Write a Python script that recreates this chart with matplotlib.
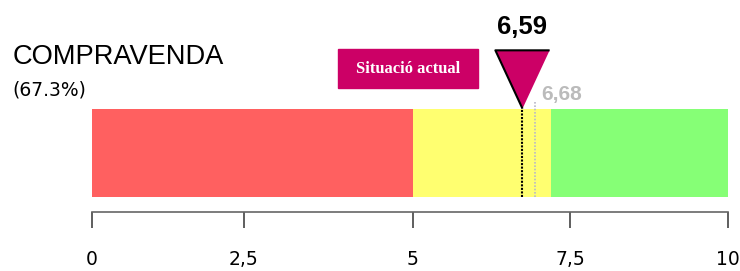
import numpy as np
import matplotlib
matplotlib.use('Agg')
import matplotlib.pyplot as plt
from matplotlib import transforms
from matplotlib.patches import Rectangle

# -------- data --------
band_edges = [0, 5, 7.2, 10]
band_colors = ['#FF6060', '#FFFF70', '#86FF76']

tick_vals = [0, 2.5, 5, 7.5, 10]
tick_labels = ['0', '2,5', '5', '7,5', '10']

actual_pos = 6.73      # where the marker sits on the axis
actual_label = '6,59'
prev_pos = 6.94
prev_label = '6,68'

title = 'COMPRAVENDA'
subtitle = '(67.3%)'
legend_text = 'Situació actual'

# the axis of the original is not quite linear: tick positions in pixels
AXIS_PX = [92, 243.5, 413, 570, 728]

MAGENTA = '#CC0066'

# -------- figure --------
W, H = 740, 271
fig = plt.figure(figsize=(W / 100, H / 100), dpi=100)
ax = fig.add_axes([92 / W, 74 / H, (728 - 92) / W, 88 / H])


def fwd(x):
    return np.interp(x, tick_vals, AXIS_PX)


def inv(x):
    return np.interp(x, AXIS_PX, tick_vals)


ax.set_xscale('function', functions=(fwd, inv))
ax.set_xlim(0, 10)
ax.set_ylim(0, 1)

# bandes de color
for i, c in enumerate(band_colors):
    ax.barh(0.5, band_edges[i + 1] - band_edges[i], left=band_edges[i],
            height=1, color=c, linewidth=0)

# linies puntejades
ax.plot([prev_pos, prev_pos], [0, 1.08], color='#B8B8C8', lw=1.2,
        dashes=(1, 1), clip_on=False, zorder=3)
ax.plot([actual_pos, actual_pos], [0, 1.0], color='black', lw=1.5,
        dashes=(1, 0.7), clip_on=False, zorder=4)

# triangle
tri = [(0, -1), (-0.93, 1), (0.93, 1)]
off = transforms.offset_copy(ax.transData, fig=fig, x=0, y=30.5 * 0.72, units='points')
ax.plot([actual_pos], [1], marker=tri, markersize=42, markerfacecolor=MAGENTA,
        markeredgecolor='black', markeredgewidth=1.5, transform=off,
        clip_on=False, zorder=5)

ax.annotate(actual_label, xy=(actual_pos, 1), xytext=(0, 54), textcoords='offset points',
            ha='center', va='baseline', fontsize=18.5, fontweight='bold',
            family='Liberation Sans', annotation_clip=False)
ax.annotate(prev_label, xy=(prev_pos, 1), xytext=(4.3, 6.5), textcoords='offset points',
            ha='left', va='baseline', fontsize=15, fontweight='bold', color='#BBBBBB',
            family='Liberation Sans', annotation_clip=False)

# eix
for s in ['top', 'right', 'left']:
    ax.spines[s].set_visible(False)
ax.spines['bottom'].set_position(('outward', 15 * 0.72))
ax.spines['bottom'].set_color('#666666')
ax.spines['bottom'].set_linewidth(1.2)
ax.set_yticks([])
ax.set_xticks(tick_vals)
ax.set_xticklabels(tick_labels)
ax.tick_params(axis='x', direction='out', length=16 * 0.72, width=1.1,
               color='#333333', pad=16, labelsize=13.5)
ax.xaxis.set_minor_locator(matplotlib.ticker.NullLocator())

# titols
fig.text(13 / W, 1 - 64 / H, title, fontsize=19.6, family='Liberation Sans',
         ha='left', va='baseline')
fig.text(12 / W, 1 - 96 / H, subtitle, fontsize=13.5, ha='left', va='baseline')

# etiqueta
fig.patches.append(Rectangle((338 / W, 1 - 88 / H), 140 / W, 39 / H,
                             transform=fig.transFigure, color=MAGENTA, zorder=1))
fig.text(408 / W, 1 - 69 / H, legend_text, fontsize=11.9, family='Liberation Serif',
         fontweight='bold', color='white', ha='center', va='center', zorder=2)

fig.savefig('out.png', dpi=100)
